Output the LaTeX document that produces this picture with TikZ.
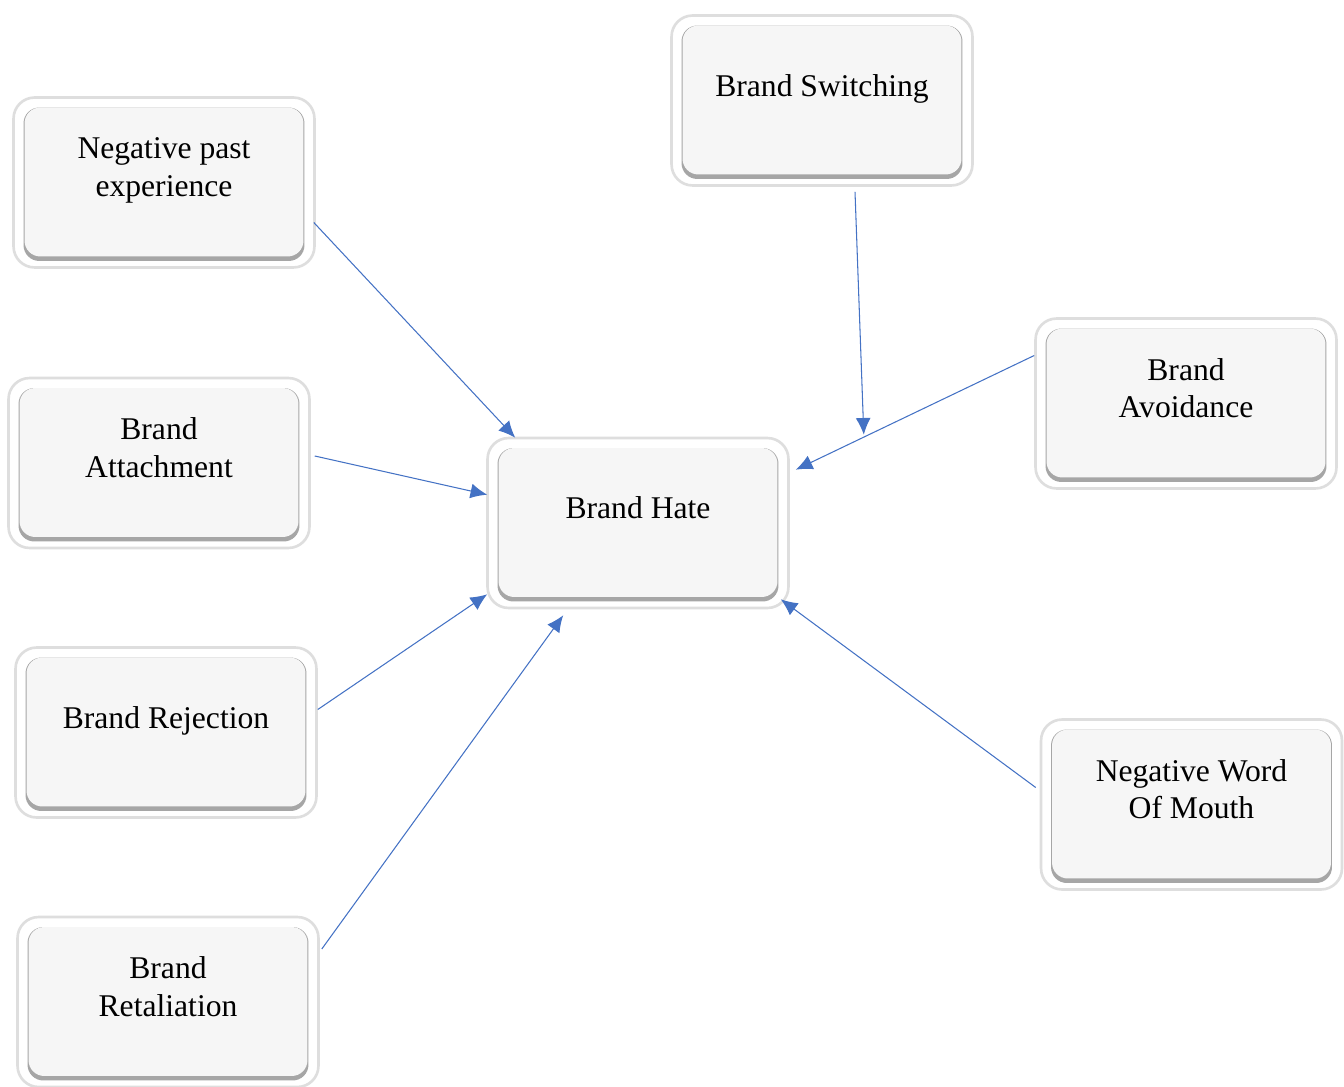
\documentclass[tikz,border=0pt]{standalone}
\usepackage{fontspec}
\setmainfont{Liberation Serif}
\usetikzlibrary{arrows.meta,calc}
\definecolor{linkblue}{HTML}{4472C4}
\definecolor{boxgray}{HTML}{F6F6F6}
\tikzset{
  box/.style={draw=black!13, line width=1.5pt, fill=white, rounded corners=12pt,
    minimum width=6.02cm, minimum height=3.40cm, align=center,
    font=\fontsize{18}{21.5}\selectfont, text depth=17.5pt,
    path picture={
      \fill[black!35, rounded corners=9pt]
        ([shift={(0.2cm,-0.2cm)}]path picture bounding box.north west) rectangle
        ([shift={(-0.2cm,0.13cm)}]path picture bounding box.south east);
      \fill[boxgray, rounded corners=9pt]
        ([shift={(0.22cm,-0.2cm)}]path picture bounding box.north west) rectangle
        ([shift={(-0.22cm,0.22cm)}]path picture bounding box.south east);
    }},
  link/.style={draw=linkblue, line width=0.6pt, -{Latex[length=9.5pt,width=8.5pt]}}
}
\begin{document}
\begin{tikzpicture}[x=0.02cm, y=-0.02cm]
\useasboundingbox (0,0) rectangle (1344,1087);

% Boxes
\node[box] (hate) at (638,523) {Brand Hate};
\foreach \name/\x/\y/\txt in {npe/164/182.5/{Negative past\\experience},
    switch/822/100.5/{Brand Switching},
    avoid/1186/403.5/{Brand\\Avoidance},
    attach/159/463/{Brand\\Attachment},
    reject/166/732.5/{Brand Rejection},
    wom/1191.5/804.5/{Negative Word\\Of Mouth},
    retal/168/1002/{Brand\\Retaliation}}
  \node[box] (\name) at (\x,\y) {\txt};

% Links into Brand Hate
\draw[link] ($(npe.east)+(-2,40)$) -- ($(hate.north west)+(29,1)$);
\draw[link] ($(switch.south)+(33,5)$) -- ($(hate.north east)+(74,-2)$);
\draw[link] ($(avoid.west)+(0,-48)$) -- ($(hate.north east)+(6,33)$);
\draw[link] ($(attach.east)+(4,-7)$) -- ($(hate.north west)+(1,58)$);
\draw[link] ($(reject.east)+(0,-23)$) -- ($(hate.south west)+(1,-15)$);
\draw[link] ($(retal.east)+(2,-53)$) -- ($(hate.south west)+(77,6)$);
\draw[link] ($(wom.west)+(-4,-17)$) -- ($(hate.south east)+(-9,-10)$);
\end{tikzpicture}
\end{document}
